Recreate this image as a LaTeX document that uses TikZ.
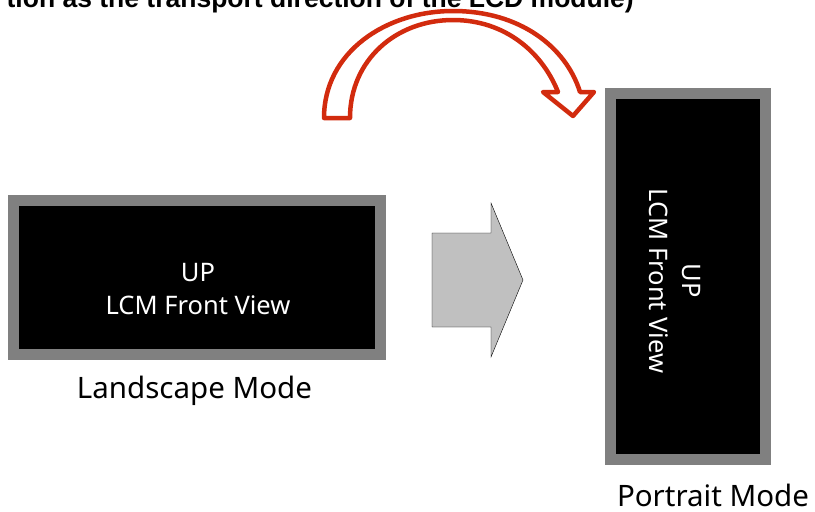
\documentclass[tikz,border=0pt]{standalone}
\usepackage{fontspec}
\setmainfont{Noto Sans}
\newfontfamily\headfont{Liberation Sans}
\definecolor{arcred}{HTML}{D22B0E}
\definecolor{rimgray}{HTML}{808080}
\definecolor{pushgray}{HTML}{C0C0C0}
\def\panel{\draw[rimgray,line width=11pt,fill=black]}
\def\label{\node[font=\fontsize{29.5}{33}\selectfont,anchor=base,inner sep=0]}
\def\lcm{\node[text=white,align=center,inner sep=0,font=\fontsize{25.5}{33}\selectfont]}

\begin{document}
\begin{tikzpicture}[x=1pt,y=-1pt]
\useasboundingbox (0,0) rectangle (815,512);
% caption cut off by the top edge
\node[anchor=base east,inner sep=0,font=\headfont\bfseries\fontsize{26.5}{30}\selectfont] (caption) at (634,7) {tion as the transport direction of the LCD module)};
% landscape panel
\panel (13.5,200) rectangle (380,354);
\lcm (landview) at (198,289) {UP\\LCM Front View};
\label (landlabel) at (194.5,398) {Landscape Mode};
% portrait panel
\panel (610.5,93.5) rectangle (765,459);
\lcm[rotate=-90] (portview) at (675,281) {UP\\LCM Front View};
\label (portlabel) at (713,506) {Portrait Mode};
% turning arrows
\draw[fill=pushgray,thin] (432,233) -- (491,233) -- (491,203) -- (523,280)
  -- (491,357) -- (491,327) -- (432,327) -- cycle;
\draw[arcred,line width=4.5pt,line join=round,fill=white]
  (324,118) .. controls (324,52) and (386,11) .. (453,11)
  .. controls (520,11) and (566,47) .. (580,92) -- (594,92) -- (573,116)
  -- (543,92) -- (558,92) .. controls (542,52) and (505,20) .. (453,20)
  .. controls (396,20) and (350,60) .. (350,118) -- cycle;
\end{tikzpicture}
\end{document}
